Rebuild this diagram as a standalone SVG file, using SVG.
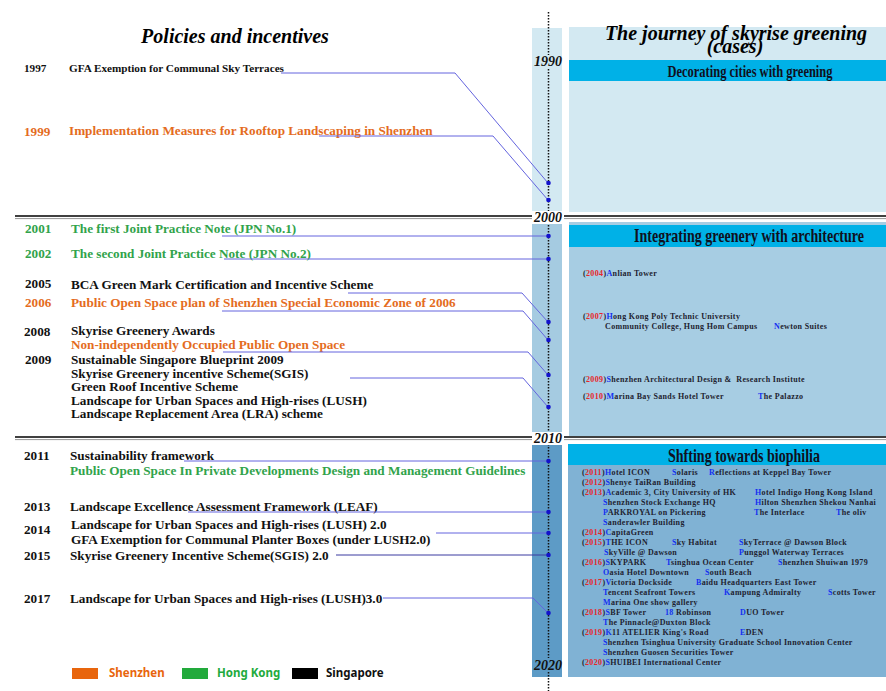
<svg xmlns="http://www.w3.org/2000/svg" width="886" height="691" viewBox="0 0 886 691">
<style>
.lt{font-family:"Liberation Serif","Times New Roman",serif;font-weight:bold;font-size:13.2px}
.sm{font-size:11.2px}
.sg{fill:#111}
.sz{fill:#e46c1e}
.hk{fill:#31a34b}
.ttl{font-family:"Liberation Serif","Times New Roman",serif;font-weight:bold;font-style:italic;font-size:20px;fill:#000}
.yr{font-family:"Liberation Serif","Times New Roman",serif;font-weight:bold;font-style:italic;font-size:14px;fill:#111;text-anchor:middle}
.band{fill:#00b1e7}
.bt{font-family:"Liberation Serif","Times New Roman",serif;font-weight:bold;fill:#101020;text-anchor:middle}
.cs{font-family:"Liberation Serif","Times New Roman",serif;font-weight:bold;font-size:8px;letter-spacing:0.35px;fill:#1e1e30}
.r{fill:#e8262a}
.b{fill:#1430f0}
.conn{fill:none;stroke:#6464de;stroke-width:1}
.dk{stroke:#3a3aa0}
.dot{fill:#1212cc}
.lg{font-family:"Noto Sans","Liberation Sans",sans-serif;font-weight:bold;font-size:11.5px}
</style>

<rect width="886" height="691" fill="#ffffff"/>

<g id="timeline">
<rect x="532" y="28" width="30" height="188" fill="#d3e9f2"/>
<rect x="532" y="216" width="30" height="221" fill="#a5cbe1"/>
<rect x="532" y="437" width="30" height="240" fill="#5d9bc6"/>
<line x1="548.5" y1="12" x2="548.5" y2="691" stroke="#111" stroke-width="1.5" stroke-dasharray="1.5,1.5"/>
</g>

<g id="panel-1990s">
<rect x="569" y="27" width="317" height="185" fill="#d3e9f2"/>
<text class="ttl" x="736" y="40" text-anchor="middle">The journey of skyrise greening</text>
<text class="ttl" x="735" y="53" text-anchor="middle">(cases)</text>
<rect class="band" x="569" y="60" width="317" height="21"/>
<text class="bt" x="750" y="77" font-size="17" font-weight="normal" textLength="165" lengthAdjust="spacingAndGlyphs">Decorating cities with greening</text>
</g>

<g id="panel-2000s">
<rect x="569" y="222" width="317" height="214" fill="#a7cde3"/>
<rect class="band" x="569" y="225" width="317" height="22"/>
<text class="bt" x="749" y="242" font-size="19" textLength="230" lengthAdjust="spacingAndGlyphs">Integrating greenery with architecture</text>
<text class="cs" x="583" y="276">(<tspan class="r">2004</tspan>)<tspan class="b">A</tspan>nlian Tower</text>
<text class="cs" x="583" y="319">(<tspan class="r">2007</tspan>)<tspan class="b">H</tspan>ong Kong Poly Technic University</text>
<text class="cs" x="605" y="329">Community College, Hung Hom Campus</text>
<text class="cs" x="774" y="329"><tspan class="b">N</tspan>ewton Suites</text>
<text class="cs" x="583" y="382">(<tspan class="r">2009</tspan>)<tspan class="b">S</tspan>henzhen Architectural Design &amp;&#160; Research Institute</text>
<text class="cs" x="583" y="399">(<tspan class="r">2010</tspan>)<tspan class="b">M</tspan>arina Bay Sands Hotel Tower</text>
<text class="cs" x="758" y="399"><tspan class="b">T</tspan>he Palazzo</text>
</g>

<g id="panel-2010s">
<rect x="568" y="444" width="318" height="233" fill="#80b2d4"/>
<rect class="band" x="568" y="444" width="318" height="21"/>
<text class="bt" x="744" y="462" font-size="19" textLength="152" lengthAdjust="spacingAndGlyphs">Shfting towards biophilia</text>
<text class="cs" x="582" y="475">(<tspan class="r">2011</tspan>)<tspan class="b">H</tspan>otel ICON</text>
<text class="cs" x="672" y="475"><tspan class="b">S</tspan>olaris</text>
<text class="cs" x="709" y="475"><tspan class="b">R</tspan>eflections at Keppel Bay Tower</text>
<text class="cs" x="582" y="485">(<tspan class="r">2012</tspan>)<tspan class="b">S</tspan>henye TaiRan Building</text>
<text class="cs" x="582" y="495">(<tspan class="r">2013</tspan>)<tspan class="b">A</tspan>cademic 3, City University of HK</text>
<text class="cs" x="755" y="495"><tspan class="b">H</tspan>otel Indigo Hong Kong Island</text>
<text class="cs" x="603" y="505"><tspan class="b">S</tspan>henzhen Stock Exchange HQ</text>
<text class="cs" x="755" y="505"><tspan class="b">H</tspan>ilton Shenzhen Shekou Nanhai</text>
<text class="cs" x="603" y="515"><tspan class="b">P</tspan>ARKROYAL on Pickering</text>
<text class="cs" x="754" y="515"><tspan class="b">T</tspan>he Interlace</text>
<text class="cs" x="836" y="515"><tspan class="b">T</tspan>he oliv</text>
<text class="cs" x="603" y="525"><tspan class="b">S</tspan>anderawler Building</text>
<text class="cs" x="582" y="535">(<tspan class="r">2014</tspan>)<tspan class="b">C</tspan>apitaGreen</text>
<text class="cs" x="582" y="545">(<tspan class="r">2015</tspan>)<tspan class="b">T</tspan>HE ICON</text>
<text class="cs" x="672" y="545"><tspan class="b">S</tspan>ky Habitat</text>
<text class="cs" x="739" y="545"><tspan class="b">S</tspan>kyTerrace @ Dawson Block</text>
<text class="cs" x="604" y="555"><tspan class="b">S</tspan>kyVille @ Dawson</text>
<text class="cs" x="739" y="555"><tspan class="b">P</tspan>unggol Waterway Terraces</text>
<text class="cs" x="582" y="565">(<tspan class="r">2016</tspan>)<tspan class="b">S</tspan>KYPARK</text>
<text class="cs" x="666" y="565"><tspan class="b">T</tspan>singhua Ocean Center</text>
<text class="cs" x="778" y="565"><tspan class="b">S</tspan>henzhen Shuiwan 1979</text>
<text class="cs" x="603" y="575"><tspan class="b">O</tspan>asia Hotel Downtown</text>
<text class="cs" x="705" y="575"><tspan class="b">S</tspan>outh Beach</text>
<text class="cs" x="582" y="585">(<tspan class="r">2017</tspan>)<tspan class="b">V</tspan>ictoria Dockside</text>
<text class="cs" x="696" y="585"><tspan class="b">B</tspan>aidu Headquarters East Tower</text>
<text class="cs" x="603" y="595"><tspan class="b">T</tspan>encent Seafront Towers</text>
<text class="cs" x="724" y="595"><tspan class="b">K</tspan>ampung Admiralty</text>
<text class="cs" x="828" y="595"><tspan class="b">S</tspan>cotts Tower</text>
<text class="cs" x="603" y="605"><tspan class="b">M</tspan>arina One show gallery</text>
<text class="cs" x="582" y="615">(<tspan class="r">2018</tspan>)<tspan class="b">S</tspan>BF Tower</text>
<text class="cs" x="665" y="615"><tspan class="b">18</tspan> Robinson</text>
<text class="cs" x="740" y="615"><tspan class="b">D</tspan>UO Tower</text>
<text class="cs" x="603" y="625"><tspan class="b">T</tspan>he Pinnacle@Duxton Block</text>
<text class="cs" x="582" y="635">(<tspan class="r">2019</tspan>)<tspan class="b">K</tspan>11 ATELIER King's Road</text>
<text class="cs" x="740" y="635"><tspan class="b">E</tspan>DEN</text>
<text class="cs" x="603" y="645"><tspan class="b">S</tspan>henzhen Tsinghua University Graduate School Innovation Center</text>
<text class="cs" x="603" y="655"><tspan class="b">S</tspan>henzhen Guosen Securities Tower</text>
<text class="cs" x="582" y="665">(<tspan class="r">2020</tspan>)<tspan class="b">S</tspan>HUIBEI International Center</text>
</g>

<g id="separators">
<line x1="15" y1="216" x2="886" y2="216" stroke="#000" stroke-width="1.6"/>
<line x1="15" y1="218.6" x2="886" y2="218.6" stroke="#8a8a8a" stroke-width="0.9"/>
<line x1="15" y1="437" x2="886" y2="437" stroke="#000" stroke-width="1.6"/>
<line x1="15" y1="439.6" x2="886" y2="439.6" stroke="#8a8a8a" stroke-width="0.9"/>
</g>

<g id="decades">
<rect x="534" y="55" width="28" height="13" fill="#d3e9f2"/>
<text class="yr" x="548" y="66">1990</text>
<rect x="532" y="211" width="32" height="13" fill="#ffffff"/>
<text class="yr" x="548" y="222">2000</text>
<rect x="532" y="432" width="32" height="13" fill="#ffffff"/>
<text class="yr" x="548" y="443">2010</text>
<rect x="532" y="658" width="30" height="14" fill="#5d9bc6"/>
<text class="yr" x="548" y="670">2020</text>
</g>

<text class="ttl" x="235" y="43" text-anchor="middle">Policies and incentives</text>

<g id="p1997"><text class="lt sm sg" x="24" y="72">1997</text><text class="lt sm sg" x="69" y="72">GFA Exemption for Communal Sky Terraces</text></g>
<g id="p1999"><text class="lt sz" x="24" y="136">1999</text><text class="lt sz" x="69" y="135">Implementation Measures for Rooftop Landscaping in Shenzhen</text></g>
<g id="p2001"><text class="lt hk" x="25" y="233">2001</text><text class="lt hk" x="71" y="233">The first Joint Practice Note (JPN No.1)</text></g>
<g id="p2002"><text class="lt hk" x="25" y="258">2002</text><text class="lt hk" x="71" y="258">The second Joint Practice Note (JPN No.2)</text></g>
<g id="p2005"><text class="lt sg" x="25" y="288">2005</text><text class="lt sg" x="71" y="289">BCA Green Mark Certification and Incentive Scheme</text></g>
<g id="p2006"><text class="lt sz" x="25" y="307">2006</text><text class="lt sz" x="71" y="307">Public Open Space plan of Shenzhen Special Economic Zone of 2006</text></g>
<g id="p2008"><text class="lt sg" x="24" y="336">2008</text><text class="lt sg" x="71" y="335">Skyrise Greenery Awards</text><text class="lt sz" x="71" y="349">Non-independently Occupied Public Open Space</text></g>
<g id="p2009"><text class="lt sg" x="25" y="364">2009</text>
<text class="lt sg" x="71" y="364">Sustainable Singapore Blueprint 2009</text>
<text class="lt sg" x="71" y="378">Skyrise Greenery incentive Scheme(SGIS)</text>
<text class="lt sg" x="71" y="391">Green Roof Incentive Scheme</text>
<text class="lt sg" x="71" y="405">Landscape for Urban Spaces and High-rises (LUSH)</text>
<text class="lt sg" x="71" y="418">Landscape Replacement Area (LRA) scheme</text></g>
<g id="p2011"><text class="lt sg" x="24" y="460">2011</text><text class="lt sg" x="70" y="460">Sustainability framework</text><text class="lt hk" x="70" y="475">Public Open Space In Private Developments Design and Management Guidelines</text></g>
<g id="p2013"><text class="lt sg" x="24" y="511">2013</text><text class="lt sg" x="70" y="511">Landscape Excellence Assessment Framework (LEAF)</text></g>
<g id="p2014"><text class="lt sg" x="24" y="534">2014</text><text class="lt sg" x="71" y="529">Landscape for Urban Spaces and High-rises (LUSH) 2.0</text><text class="lt sg" x="71" y="544">GFA Exemption for Communal Planter Boxes (under LUSH2.0)</text></g>
<g id="p2015"><text class="lt sg" x="24" y="560">2015</text><text class="lt sg" x="70" y="560">Skyrise Greenery Incentive Scheme(SGIS) 2.0</text></g>
<g id="p2017"><text class="lt sg" x="24" y="603">2017</text><text class="lt sg" x="70" y="603">Landscape for Urban Spaces and High-rises (LUSH)3.0</text></g>

<g id="connectors">
<polyline class="conn" points="281,73 455,73 548,183"/>
<polyline class="conn" points="319,136 493,136 548,200"/>
<polyline class="conn" points="222,236 548,236"/>
<polyline class="conn" points="224,259 548,259"/>
<polyline class="conn" points="348,293 522,293 548,322"/>
<polyline class="conn" points="222,311 523,311 548,340"/>
<polyline class="conn" points="223,352 528,352 548,375"/>
<polyline class="conn" points="350,378 523,378 548,407"/>
<polyline class="conn" points="184,461 548,461"/>
<polyline class="conn" points="188,512 548,512"/>
<polyline class="conn" points="436,533 548,533"/>
<polyline class="conn dk" points="336,555 548,555"/>
<polyline class="conn" points="383,598 533,598 548,613"/>
<circle class="dot" cx="548.5" cy="183" r="2.3"/>
<circle class="dot" cx="548.5" cy="200" r="2.3"/>
<circle class="dot" cx="548.5" cy="236" r="2.3"/>
<circle class="dot" cx="548.5" cy="259" r="2.3"/>
<circle class="dot" cx="548.5" cy="322" r="2.3"/>
<circle class="dot" cx="548.5" cy="340" r="2.3"/>
<circle class="dot" cx="548.5" cy="375" r="2.3"/>
<circle class="dot" cx="548.5" cy="407" r="2.3"/>
<circle class="dot" cx="548.5" cy="461" r="2.3"/>
<circle class="dot" cx="548.5" cy="512" r="2.3"/>
<circle class="dot" cx="548.5" cy="533" r="2.3"/>
<circle class="dot" cx="548.5" cy="555" r="2.3"/>
<circle class="dot" cx="548.5" cy="613" r="2.3"/>
</g>

<g id="legend">
<rect x="72" y="668" width="26" height="11" fill="#e8650d"/>
<text class="lg" x="109" y="677" fill="#e8650d">Shenzhen</text>
<rect x="182" y="668" width="26" height="11" fill="#22aa3c"/>
<text class="lg" x="217" y="677" fill="#22aa3c">Hong Kong</text>
<rect x="292" y="668" width="26" height="11" fill="#000"/>
<text class="lg" x="326" y="677" fill="#111">Singapore</text>
</g>
</svg>
